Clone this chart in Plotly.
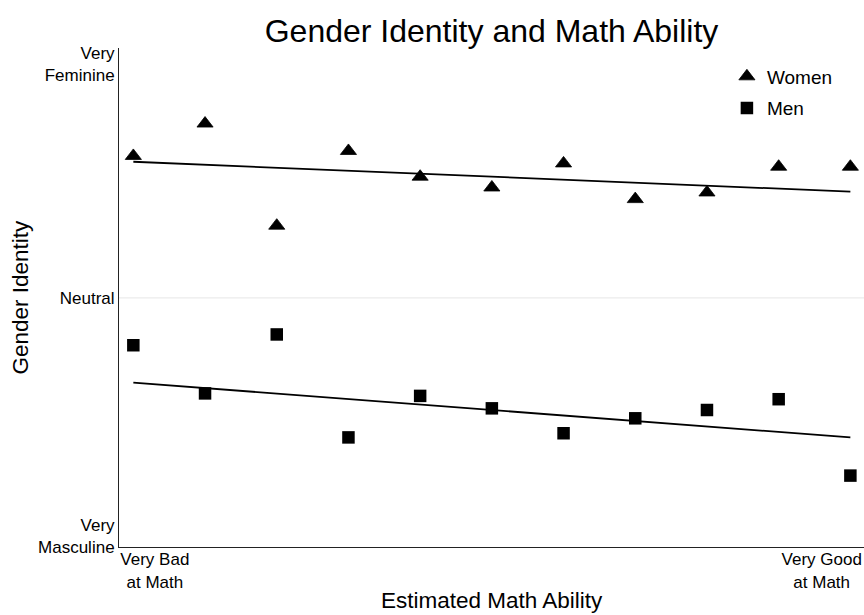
import plotly.graph_objects as go

# Self-rated math ability: 11 steps from "very bad" (0) to "very good" (10)
ability = [0, 1, 2, 3, 4, 5, 6, 7, 8, 9, 10]

# Mean gender identity on a 1 (very masculine) .. 7 (very feminine) scale
women = [5.71, 6.10, 4.87, 5.77, 5.46, 5.33, 5.62, 5.19, 5.27, 5.58, 5.58]
men = [3.43, 2.85, 3.56, 2.32, 2.82, 2.67, 2.37, 2.55, 2.65, 2.78, 1.86]

# Linear fits, evaluated at the two ends of the ability scale
fit_x = [0, 10]
women_fit = [5.64, 5.28]
men_fit = [2.98, 2.32]

# Axis labelling
neutral = 4
y_tick_pos = [1.13, 4, 6.82]
y_tick_text = ["Very<br>Masculine", "Neutral", "Very<br>Feminine"]
x_tick_pos = [0.3, 9.6]
x_tick_text = ["Very Bad<br>at Math", "Very Good<br>at Math"]

FONT = "Liberation Sans, Arial, Helvetica, sans-serif"

fig = go.Figure()

fig.add_trace(go.Scatter(
    x=ability, y=women, mode="markers", name="Women", legendgroup="w",
    marker=dict(symbol="triangle-up", size=14, color="black",
                line=dict(color="black", width=0.8)),
))
fig.add_trace(go.Scatter(
    x=ability, y=men, mode="markers", name="Men", legendgroup="m",
    marker=dict(symbol="square", size=12.5, color="black"),
))
fig.add_trace(go.Scatter(
    x=fit_x, y=women_fit, mode="lines", showlegend=False,
    line=dict(color="black", width=1.8),
))
fig.add_trace(go.Scatter(
    x=fit_x, y=men_fit, mode="lines", showlegend=False,
    line=dict(color="black", width=1.8),
))

# Reference line at the neutral point of the identity scale
fig.add_shape(
    type="line", xref="paper", x0=0, x1=1, yref="y", y0=neutral, y1=neutral,
    line=dict(color="#e6e6e6", width=1), layer="below",
)

fig.update_layout(
    width=864, height=615,
    margin=dict(l=119, r=0, t=48, b=68),
    paper_bgcolor="white", plot_bgcolor="white",
    font=dict(family=FONT, color="black"),
    title=dict(
        text="Gender Identity and Math Ability",
        font=dict(size=32, family=FONT, color="black"),
        x=0.5, xref="paper", xanchor="center",
        y=1 - 31 / 615, yref="container", yanchor="middle",
    ),
    legend=dict(
        x=0.816, y=0.981, xanchor="left", yanchor="top",
        font=dict(size=19, family=FONT), bgcolor="rgba(0,0,0,0)",
        tracegroupgap=4,
    ),
    xaxis=dict(
        range=[-0.2, 10.19], showgrid=False, zeroline=False,
        showline=True, linecolor="#222", linewidth=1,
        tickvals=x_tick_pos, ticktext=x_tick_text, ticks="",
        tickfont=dict(size=17, family=FONT), ticklabelstandoff=-3,
    ),
    yaxis=dict(
        range=[1, 7.01], showgrid=False, zeroline=False,
        showline=True, linecolor="#222", linewidth=1,
        tickvals=y_tick_pos, ticktext=y_tick_text, ticks="",
        tickfont=dict(size=17, family=FONT),
    ),
    annotations=[
        dict(text="Estimated Math Ability", xref="paper", yref="paper",
             x=0.5, y=-(600 - 547) / 499, xanchor="center", yanchor="middle",
             showarrow=False, font=dict(size=22.5, family=FONT)),
        dict(text="Gender Identity", xref="paper", yref="paper",
             x=(20 - 119) / 745, y=0.5, xanchor="center", yanchor="middle",
             textangle=-90, showarrow=False, font=dict(size=22.5, family=FONT)),
    ],
)

fig.write_html("out.html")
